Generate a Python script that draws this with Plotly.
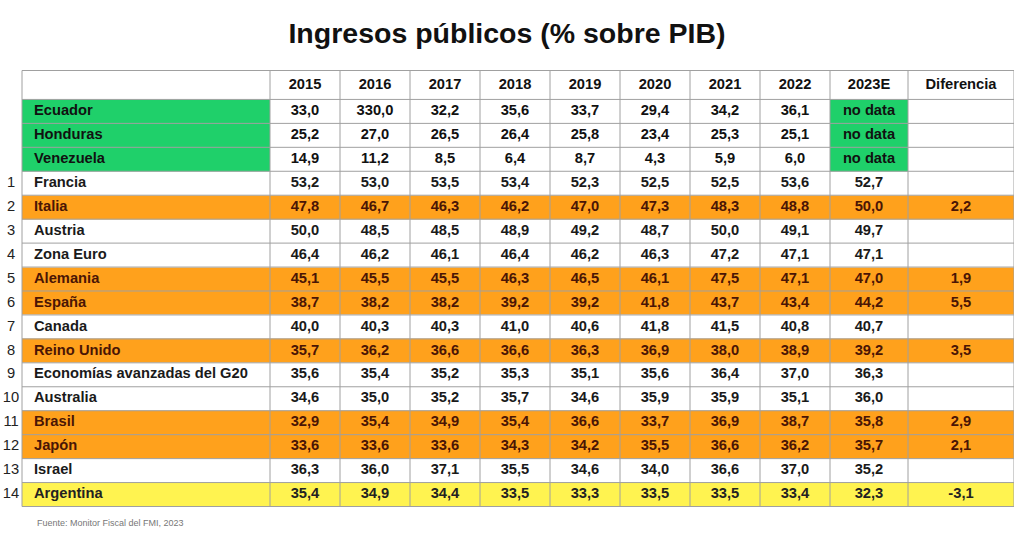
import plotly.graph_objects as go

years = ["2015", "2016", "2017", "2018", "2019", "2020", "2021", "2022", "2023E"]
countries = ["Ecuador", "Honduras", "Venezuela", "Francia", "Italia", "Austria", "Zona Euro",
             "Alemania", "España", "Canada", "Reino Unido", "Economías avanzadas del G20",
             "Australia", "Brasil", "Japón", "Israel", "Argentina"]
ranks = ["", "", "", "1", "2", "3", "4", "5", "6", "7", "8", "9", "10", "11", "12", "13", "14"]
values = [
    ["33,0", "330,0", "32,2", "35,6", "33,7", "29,4", "34,2", "36,1", "no data"],
    ["25,2", "27,0", "26,5", "26,4", "25,8", "23,4", "25,3", "25,1", "no data"],
    ["14,9", "11,2", "8,5", "6,4", "8,7", "4,3", "5,9", "6,0", "no data"],
    ["53,2", "53,0", "53,5", "53,4", "52,3", "52,5", "52,5", "53,6", "52,7"],
    ["47,8", "46,7", "46,3", "46,2", "47,0", "47,3", "48,3", "48,8", "50,0"],
    ["50,0", "48,5", "48,5", "48,9", "49,2", "48,7", "50,0", "49,1", "49,7"],
    ["46,4", "46,2", "46,1", "46,4", "46,2", "46,3", "47,2", "47,1", "47,1"],
    ["45,1", "45,5", "45,5", "46,3", "46,5", "46,1", "47,5", "47,1", "47,0"],
    ["38,7", "38,2", "38,2", "39,2", "39,2", "41,8", "43,7", "43,4", "44,2"],
    ["40,0", "40,3", "40,3", "41,0", "40,6", "41,8", "41,5", "40,8", "40,7"],
    ["35,7", "36,2", "36,6", "36,6", "36,3", "36,9", "38,0", "38,9", "39,2"],
    ["35,6", "35,4", "35,2", "35,3", "35,1", "35,6", "36,4", "37,0", "36,3"],
    ["34,6", "35,0", "35,2", "35,7", "34,6", "35,9", "35,9", "35,1", "36,0"],
    ["32,9", "35,4", "34,9", "35,4", "36,6", "33,7", "36,9", "38,7", "35,8"],
    ["33,6", "33,6", "33,6", "34,3", "34,2", "35,5", "36,6", "36,2", "35,7"],
    ["36,3", "36,0", "37,1", "35,5", "34,6", "34,0", "36,6", "37,0", "35,2"],
    ["35,4", "34,9", "34,4", "33,5", "33,3", "33,5", "33,5", "33,4", "32,3"],
]
diferencia = ["", "", "", "", "2,2", "", "", "1,9", "5,5", "", "3,5", "", "", "2,9", "2,1", "", "-3,1"]
groups = ["g", "g", "g", "w", "o", "w", "w", "o", "o", "w", "o", "w", "w", "o", "o", "w", "y"]

# ---- geometry (pixel-like units) ----
col_widths = [248] + [70] * 8 + [78, 106]
left = 22
xedges = [left]
for w in col_widths:
    xedges.append(xedges[-1] + w)
row_heights = [29] + [24] * len(countries)
yedges = [0]
for h in row_heights:
    yedges.append(yedges[-1] + h)
xc = [(xedges[i] + xedges[i + 1]) / 2 for i in range(len(col_widths))]
yc = [(yedges[i] + yedges[i + 1]) / 2 for i in range(len(row_heights))]

# ---- fills: 0 white, 1 green, 2 orange, 3 yellow ----
code = {"w": 0, "g": 1, "o": 2, "y": 3}
z = [[0] * len(col_widths)]
for g in groups:
    row = []
    for ci in range(len(col_widths)):
        if g == "g":
            row.append(1 if ci in (0, 9) else 0)
        else:
            row.append(code[g])
    z.append(row)
cs = [[0, "#ffffff"], [0.25, "#ffffff"], [0.25, "#1fd06a"], [0.5, "#1fd06a"],
      [0.5, "#ffa11c"], [0.75, "#ffa11c"], [0.75, "#fff350"], [1, "#fff350"]]

fig = go.Figure()
fig.add_trace(go.Heatmap(x=xedges, y=yedges, z=z, colorscale=cs, zmin=-0.5, zmax=3.5,
                         showscale=False, hoverinfo="skip"))

# grid lines
lx, ly = [], []
for yv in yedges:
    lx += [left, xedges[-1], None]; ly += [yv, yv, None]
for xv in xedges:
    lx += [xv, xv, None]; ly += [0, yedges[-1], None]
fig.add_trace(go.Scatter(x=lx, y=ly, mode="lines", line=dict(color="#a0a0a0", width=1),
                         hoverinfo="skip", showlegend=False))

colors = {"g": "#111111", "o": "#4a1505", "y": "#222222", "w": "#1a1a1a"}
F = "Liberation Sans"
FS = 14.7

# header texts
hdr = years + ["Diferencia"]
fig.add_trace(go.Scatter(x=xc[1:], y=[yc[0]] * len(hdr), text=hdr, mode="text",
                         textfont=dict(family=F, size=FS, color="#111111", weight="bold"),
                         hoverinfo="skip", showlegend=False))
# country names, values, diff
for gk in colors:
    idx = [i for i, g in enumerate(groups) if g == gk]
    fig.add_trace(go.Scatter(x=[xedges[0] + 12] * len(idx), y=[yc[i + 1] for i in idx],
                             text=[countries[i] for i in idx], mode="text", textposition="middle right",
                             textfont=dict(family=F, size=FS, color=colors[gk], weight="bold"),
                             hoverinfo="skip", showlegend=False))
    tx, ty, tt = [], [], []
    for i in idx:
        for j in range(len(years)):
            tx.append(xc[j + 1]); ty.append(yc[i + 1]); tt.append(values[i][j])
        if diferencia[i]:
            tx.append(xc[-1]); ty.append(yc[i + 1]); tt.append(diferencia[i])
    fig.add_trace(go.Scatter(x=tx, y=ty, text=tt, mode="text",
                             textfont=dict(family=F, size=FS, color=colors[gk], weight="bold"),
                             hoverinfo="skip", showlegend=False))
# ranks
fig.add_trace(go.Scatter(x=[left / 2] * len(ranks), y=yc[1:], text=ranks, mode="text",
                         textfont=dict(family=F, size=FS, color="#222222"),
                         hoverinfo="skip", showlegend=False, cliponaxis=False))

fig.update_layout(
    width=1014, height=552, margin=dict(l=0, r=0, t=70, b=552 - 70 - yedges[-1]),
    paper_bgcolor="white", plot_bgcolor="white", showlegend=False,
    xaxis=dict(range=[0, 1014], visible=False, fixedrange=True),
    yaxis=dict(range=[yedges[-1] + 0.5, -0.5], visible=False, fixedrange=True),
    title=dict(text="<b>Ingresos públicos (% sobre PIB)</b>", x=0.5, xanchor="center",
               yref="container", y=1 - 33 / 552, yanchor="middle",
               font=dict(family=F, size=28.5, color="#111111")),
    annotations=[dict(text="Fuente: Monitor Fiscal del FMI, 2023", x=35 / 1014, y=-16 / yedges[-1],
                      xref="paper", yref="paper", xanchor="left", yanchor="middle", showarrow=False,
                      font=dict(family=F, size=9, color="#777777"))],
)
fig.write_html("out.html", config={"displayModeBar": False},
               post_script="document.body.style.margin='0';document.body.style.overflow='hidden';")
